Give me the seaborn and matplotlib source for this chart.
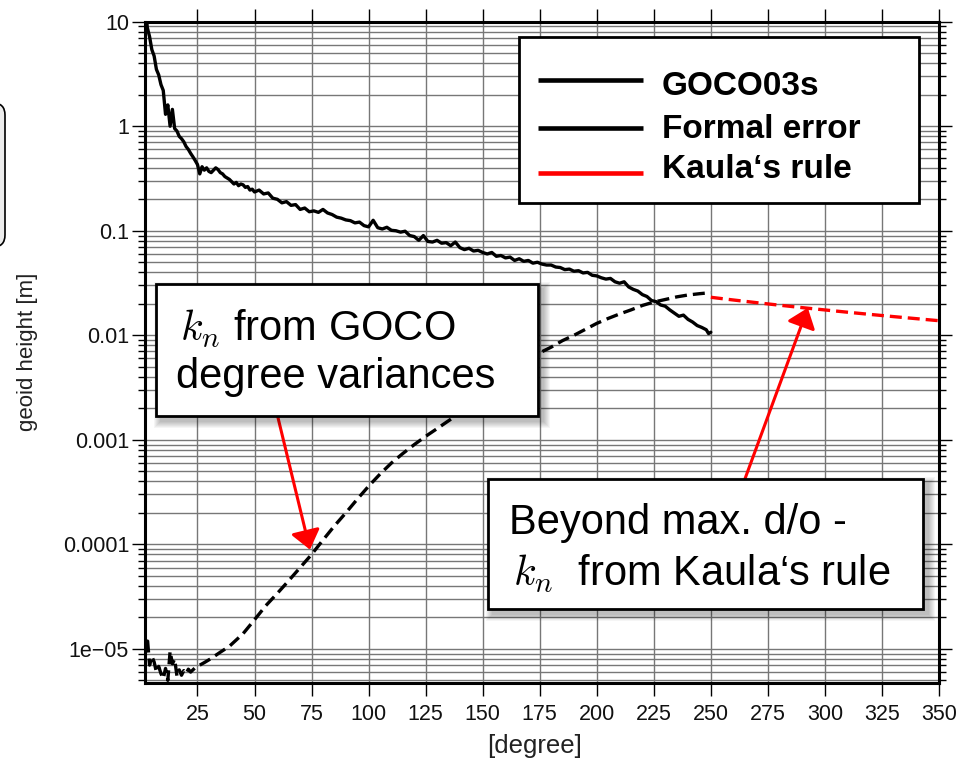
import matplotlib
matplotlib.use("Agg")
import numpy as np
import pandas as pd
import matplotlib.pyplot as plt
import seaborn as sns
from matplotlib.patches import Rectangle, FancyBboxPatch
from matplotlib.lines import Line2D
from matplotlib.transforms import Affine2D
from matplotlib.ticker import LogLocator, NullFormatter, NullLocator

# ---------------------------------------------------------------- data
# GOCO03s signal degree amplitudes (geoid height, m)
signal_deg = list(range(2, 51)) + list(range(52, 249, 2)) + [249, 250]
signal_val = [
    16, 8.8, 7.2, 5.4, 4.7, 3.5, 3.1, 2.5, 2.2, 1.3,
    1.6, 1.0, 1.45, 0.95, 0.9, 0.8, 0.76, 0.71, 0.64, 0.6,
    0.55, 0.51, 0.47, 0.43, 0.35, 0.41, 0.38, 0.4, 0.37, 0.36,
    0.38, 0.40, 0.385, 0.36, 0.35, 0.33, 0.32, 0.31, 0.295, 0.28,
    0.29, 0.27, 0.28, 0.275, 0.26, 0.265, 0.245, 0.25, 0.235,
    0.245, 0.225, 0.23, 0.205, 0.2, 0.185, 0.19, 0.175, 0.178, 0.16,
    0.165, 0.152, 0.155, 0.15, 0.16, 0.148, 0.143, 0.135, 0.132, 0.127,
    0.125, 0.119, 0.121, 0.112, 0.109, 0.126, 0.107, 0.104, 0.108, 0.101,
    0.1, 0.097, 0.099, 0.09, 0.088, 0.081, 0.09, 0.079, 0.078, 0.081,
    0.076, 0.077, 0.072, 0.078, 0.069, 0.066, 0.068, 0.064, 0.065, 0.062,
    0.06, 0.062, 0.057, 0.058, 0.055, 0.056, 0.052, 0.054, 0.051, 0.052,
    0.049, 0.05, 0.048, 0.047, 0.047, 0.045, 0.0445, 0.0425, 0.043, 0.041,
    0.0415, 0.0395, 0.04, 0.0375, 0.037, 0.0355, 0.0345, 0.035, 0.0325, 0.0315,
    0.0325, 0.029, 0.0275, 0.0265, 0.0245, 0.0235, 0.0215, 0.021, 0.0195, 0.019,
    0.0175, 0.0163, 0.0152, 0.0156, 0.0142, 0.0134, 0.0124, 0.0119, 0.0113,
    0.0104, 0.0107,
]

# formal error degree amplitudes (geoid height, m)
error_deg = list(range(2, 26)) + [28, 31, 35, 39, 45] + list(range(50, 251, 5))
error_val = [
    9.5e-6, 1.3e-5, 7.0e-6, 8.5e-6, 7.5e-6, 6.0e-6, 6.8e-6, 5.8e-6, 5.2e-6, 6.5e-6,
    5.0e-6, 9.5e-6, 7.2e-6, 8.0e-6, 5.5e-6, 6.3e-6, 5.6e-6, 6.2e-6, 5.8e-6, 6.4e-6,
    6.0e-6, 6.3e-6, 6.6e-6, 6.8e-6,
    7.4e-6, 8.1e-6, 9.3e-6, 1.06e-5, 1.4e-5,
    1.9e-5, 2.6e-5, 3.4e-5, 4.5e-5, 6.0e-5, 8.0e-5, 1.1e-4, 1.5e-4, 2.0e-4, 2.7e-4,
    3.6e-4, 4.7e-4, 6.0e-4, 7.4e-4, 9.0e-4, 1.08e-3, 1.28e-3, 1.52e-3, 1.8e-3, 2.3e-3,
    2.8e-3, 3.4e-3, 4.1e-3, 4.9e-3, 5.8e-3, 6.8e-3, 7.7e-3, 8.9e-3, 1.0e-2, 1.14e-2,
    1.3e-2, 1.45e-2, 1.6e-2, 1.75e-2, 1.93e-2, 2.08e-2, 2.2e-2, 2.33e-2, 2.43e-2, 2.5e-2,
    2.56e-2,
]

# Kaula's rule beyond the maximum degree/order
kaula_deg = [250, 260, 270, 280, 290, 300, 310, 320, 330, 340, 350]
kaula_val = [0.0231, 0.02175, 0.02053, 0.01942, 0.0184, 0.01748,
             0.01662, 0.01583, 0.0151, 0.01443, 0.01379]

x_ticks = [25, 50, 75, 100, 125, 150, 175, 200, 225, 250, 275, 300, 325, 350]
y_ticks = [1e-5, 1e-4, 1e-3, 1e-2, 1e-1, 1, 10]
y_tick_labels = ["1e\u221205", "0.0001", "0.001", "0.01", "0.1", "1", "10"]
legend_labels = ["GOCO03s", "Formal error", "Kaula\u2018s rule"]
legend_colors = ["black", "black", "#ff0000"]

# ---------------------------------------------------------------- style
sns.set_theme(style="ticks")
plt.rcParams["font.family"] = ["Liberation Sans", "DejaVu Sans"]
plt.rcParams["mathtext.fontset"] = "cm"

W, H = 959, 762
fig = plt.figure(figsize=(W / 100, H / 100), dpi=100)
fig.patch.set_facecolor("white")
# pixel units, origin bottom-left
px = Affine2D().scale(1 / 100) + fig.dpi_scale_trans

L, R, T, B = 145, 939, 21.7, 682.7
ax = fig.add_axes([L / W, 1 - B / H, (R - L) / W, (B - T) / H])
ax.set_yscale("log")
ax.set_axisbelow(True)

dash = (0, (3.6, 1.8))
df_sig = pd.DataFrame({"degree": signal_deg, "geoid": signal_val})
df_err = pd.DataFrame({"degree": error_deg, "geoid": error_val})
df_kau = pd.DataFrame({"degree": kaula_deg, "geoid": kaula_val})

sns.lineplot(data=df_sig, x="degree", y="geoid", ax=ax, color="black",
             lw=2.4, estimator=None, legend=False, zorder=3)
sns.lineplot(data=df_err, x="degree", y="geoid", ax=ax, color="black",
             lw=2.4, linestyle=dash, estimator=None, legend=False, zorder=3)
sns.lineplot(data=df_kau, x="degree", y="geoid", ax=ax, color="#ff0000",
             lw=2.4, linestyle=dash, estimator=None, legend=False, zorder=3)

ax.set_xlim(2, 350)
ax.set_ylim(4.75e-6, 10)

ax.set_xticks(x_ticks)
ax.set_xticklabels([str(t) for t in x_ticks])
ax.xaxis.set_minor_locator(NullLocator())
ax.set_yticks(y_ticks)
ax.set_yticklabels(y_tick_labels)
ax.yaxis.set_minor_locator(LogLocator(base=10, subs=np.arange(2, 10), numticks=30))
ax.yaxis.set_minor_formatter(NullFormatter())

ax.tick_params(which="both", direction="out", top=True, right=True,
               labeltop=False, labelright=False, color="black", width=1.0)
ax.tick_params(which="major", length=9.5, labelsize=15.5, labelcolor="#111111")
ax.tick_params(axis="x", which="major", pad=6)
ax.tick_params(axis="y", which="major", pad=2)
ax.tick_params(which="minor", length=5)

ax.grid(True, which="major", axis="x", color="#777777", lw=1.0)
ax.grid(True, which="both", axis="y", color="#777777", lw=1.0)
for s in ax.spines.values():
    s.set_linewidth(2.2)
    s.set_color("black")

ax.set_xlabel("[degree]", fontsize=18.5, color="#222222")
ax.xaxis.set_label_coords(0.491, -0.096)
ax.xaxis.label.set_va("center")
ax.set_ylabel("geoid height [m]", fontsize=16, color="#222222")
ax.yaxis.set_label_coords(-0.1486, 0.5)
ax.yaxis.label.set_va("center")

# arrows pointing from the text panels to the curves
arrow = dict(arrowstyle="-|>,head_length=1.15,head_width=0.9", mutation_scale=10,
             color="#ff0000", lw=2.2, shrinkA=0, shrinkB=0)
ax.annotate("", xy=(74.3, 8.9e-5), xytext=(60.0, 1.73e-3), arrowprops=arrow,
            zorder=4, annotation_clip=False)
ax.annotate("", xy=(292.5, 0.0183), xytext=(264.9, 4.2e-4), arrowprops=arrow,
            zorder=4, annotation_clip=False)


# ---------------------------------------------------------------- panels
def panel(x0, y0, x1, y1, shadow=True, lw=2.0):
    """White framed panel, coordinates in pixels from the top-left corner."""
    if shadow:
        for k in range(7):
            grow = 7 - k
            fig.add_artist(Rectangle((x0 + 5 - grow, H - y1 - 5 - grow),
                                     (x1 - x0) + 2 * grow, (y1 - y0) + 2 * grow,
                                     transform=px, fc="black", ec="none",
                                     alpha=0.04, zorder=4))
    fig.add_artist(Rectangle((x0, H - y1), x1 - x0, y1 - y0, transform=px,
                             fc="white", ec="black", lw=lw, zorder=5))


def label(x, y, s, **kw):
    fig.text(x, H - y, s, transform=px, ha="left", va="baseline", zorder=6, **kw)


# partially visible side panel at the left edge
fig.add_artist(FancyBboxPatch((-40, H - 247), 45, 144,
                              boxstyle="round,pad=0,rounding_size=12",
                              transform=px, fc="#ececec", ec="black", lw=1.2,
                              zorder=5))

panel(156, 284, 538, 416)
label(180, 340.7, "$k_n$ from GOCO", fontsize=30, color="black")
label(176, 388.3, "degree variances", fontsize=30, color="black")

panel(488, 479, 923, 609)
label(509.3, 534, "Beyond max. d/o -", fontsize=30, color="black")
label(513.3, 585.7, "$k_n$  from Kaula\u2018s rule", fontsize=30, color="black")

# legend
panel(519, 37.3, 919.3, 202.7, shadow=False)
for ly, ty, text, c in zip([80, 127.7, 173.3], [95, 138.3, 178.3],
                           legend_labels, legend_colors):
    fig.add_artist(Line2D([538, 643], [H - ly, H - ly], transform=px, color=c,
                          lw=3.3, solid_capstyle="butt", zorder=6))
    label(662, ty, text, fontsize=24, fontweight="bold", color="black")

fig.savefig("out.png", dpi=100, facecolor="white")
